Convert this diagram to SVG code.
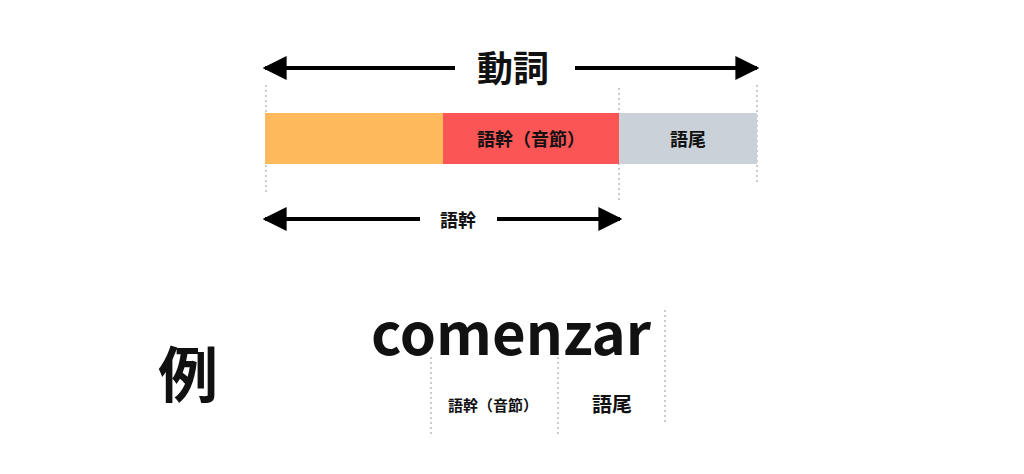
<svg xmlns="http://www.w3.org/2000/svg" width="1024" height="474" viewBox="0 0 1024 474">
<style>
text{font-family:"Noto Sans CJK JP","Noto Sans",sans-serif;font-weight:bold;fill:#111;text-anchor:middle}
.a{stroke:#000;stroke-width:4;fill:none}
.d{stroke:#bbb;stroke-width:1.5;stroke-dasharray:2 3;fill:none}
</style>
<defs>
<marker id="h" viewBox="0 0 10 10" refX="9" refY="5" markerWidth="6" markerHeight="7" markerUnits="strokeWidth" orient="auto-start-reverse"><path d="M0,0L10,5L0,10Z" fill="#000"/></marker>
</defs>
<rect width="1024" height="474" fill="#fff"/>
<g id="guides">
<path class="d" d="M266,85V195M619,88V202M757,85V182M431,357V437M558,357V437M665,310V425"/>
</g>
<g id="connectors">
<path class="a" d="M265,68H455M575,68H757" marker-start="url(#h)" marker-end="url(#h)"/>
<path class="a" d="M265,219H420M497,219H620" marker-start="url(#h)" marker-end="url(#h)"/>
</g>
<g id="bar">
<rect x="265" y="113" width="178" height="51" fill="#fdb95b"/>
<rect x="443" y="113" width="176" height="51" fill="#fb5556"/>
<rect x="619" y="113" width="138" height="51" fill="#cbd1d9"/>
<text x="531" y="146" font-size="18">語幹（音節）</text>
<text x="688" y="146" font-size="18">語尾</text>
</g>
<text x="513" y="82" font-size="36">動詞</text>
<text x="458" y="227" font-size="18">語幹</text>
<text x="511" y="355" font-size="58" font-family="Noto Sans,sans-serif">comenzar</text>
<text x="493" y="411" font-size="15">語幹（音節）</text>
<text x="612" y="412" font-size="20">語尾</text>
<text x="188" y="397" font-size="60">例</text>
</svg>
